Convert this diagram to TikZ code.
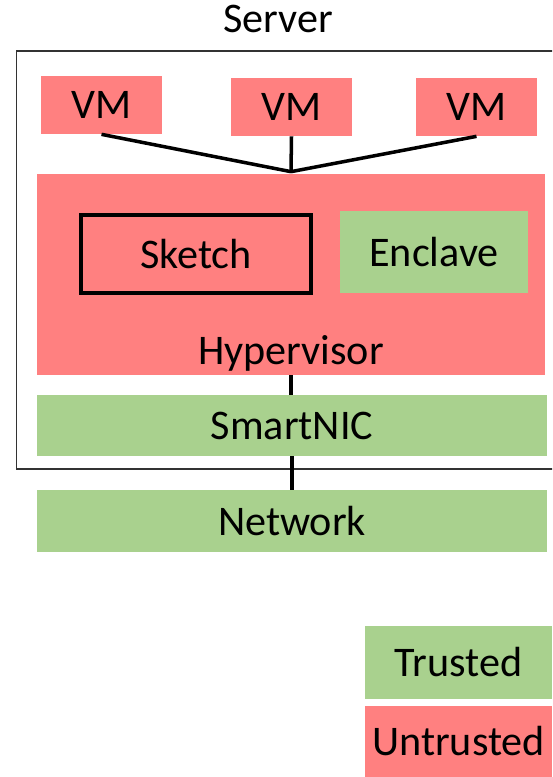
\documentclass[tikz,border=0pt]{standalone}
\usepackage{fontspec}
\setmainfont{Carlito}
\definecolor{untrust}{HTML}{FF8080}
\definecolor{trust}{HTML}{A9D18E}
\tikzset{
    box/.style={rectangle, inner sep=0pt, font=\fontsize{24}{28}\selectfont},
    redbox/.style={box, fill=untrust},
    greenbox/.style={box, fill=trust},
    link/.style={line width=2pt, black},
}
\begin{document}
\begin{tikzpicture}[x=0.02cm, y=-0.02cm]
    % 1. Vung hien thi
    \useasboundingbox (0,0) rectangle (552,777);
    \clip (0,0) rectangle (552,777);

    % 2. Khung Server
    \draw[line width=0.9pt, black!80] (16.5,51) rectangle (570,469);
    \node[box, anchor=base] (server) at (278,33) {Server};

    % 3. Cac VM
    \node[redbox, minimum width=2.42cm, minimum height=1.16cm] (vm1) at (101.5,105) {VM};
    \node[redbox, minimum width=2.42cm, minimum height=1.16cm] (vm2) at (291.5,107) {VM};
    \node[redbox, minimum width=2.42cm, minimum height=1.16cm] (vm3) at (476.5,107) {VM};

    % 4. Hypervisor, Sketch va Enclave
    \node[redbox, minimum width=10.16cm, minimum height=4.02cm] (hyp) at (291,274.5) {};
    \node[box, anchor=base] (hyptext) at (291,364) {Hypervisor};
    \node[box, draw, line width=1.8pt, minimum width=4.6cm, minimum height=1.56cm] (sketch) at (196,254) {Sketch};
    \node[greenbox, minimum width=3.76cm, minimum height=1.64cm] (enclave) at (434,252) {Enclave};

    % 5. SmartNIC va Network
    \node[greenbox, minimum width=10.2cm, minimum height=1.22cm] (nic) at (292,425.5) {SmartNIC};
    \node[greenbox, minimum width=10.2cm, minimum height=1.24cm] (net) at (292,521) {Network};

    % 6. Duong noi
    \coordinate (j) at ([yshift=0.04cm]hyp.north);
    \foreach \v in {vm1, vm2, vm3}
        \draw[link] (\v.south) -- (j);
    \draw[link] (hyp.south) -- (hyp.south |- nic.north);
    \draw[link] (nic.south) -- (nic.south |- net.north);

    % 7. Chu thich
    \node[greenbox, minimum width=3.74cm, minimum height=1.46cm] (trusted) at (458.5,662.5) {Trusted};
    \node[redbox, minimum width=3.74cm, minimum height=1.42cm] (untrusted) at (458.5,741.5) {Untrusted};
\end{tikzpicture}
\end{document}
